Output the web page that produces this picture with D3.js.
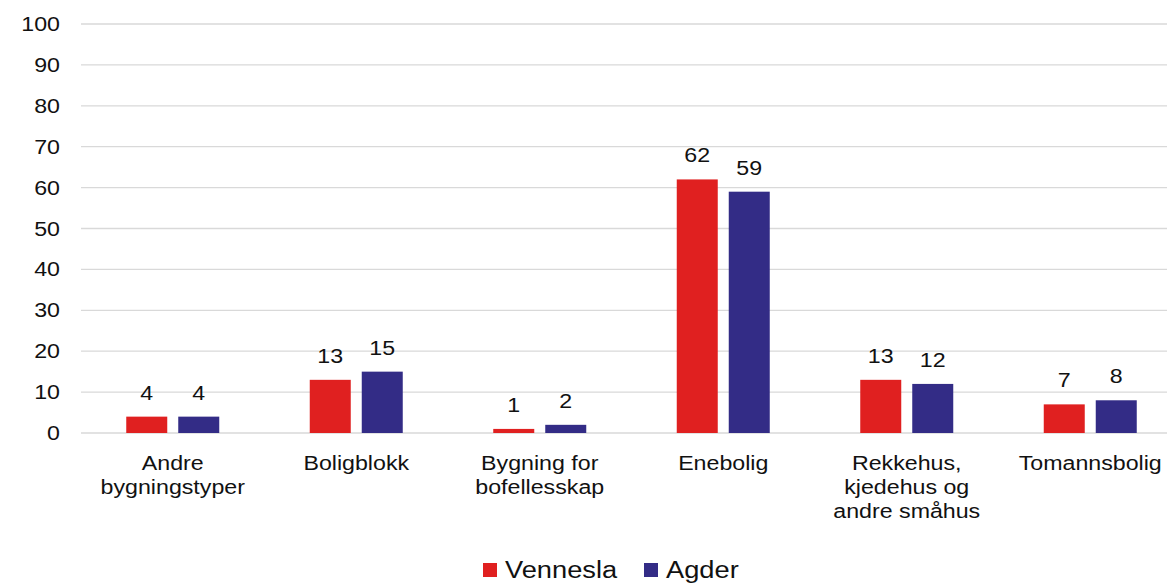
<!DOCTYPE html>
<html><head><meta charset="utf-8">
<script src="https://cdn.jsdelivr.net/npm/d3@7"></script>
<style>body{margin:0;background:#fff}svg{display:block;font-family:"Liberation Sans",Arial,sans-serif}</style>
</head><body><svg id="c" width="1167" height="583"></svg>
<script>
const categories = [["Andre","bygningstyper"],["Boligblokk"],["Bygning for","bofellesskap"],["Enebolig"],["Rekkehus,","kjedehus og","andre småhus"],["Tomannsbolig"]];
const seriesNames = ["Vennesla","Agder"];
const vennesla = [4,13,1,62,13,7];
const agder = [4,15,2,59,12,8];
const yTicks = [0,10,20,30,40,50,60,70,80,90,100];
const colors = ["#e02020","#332c86"];

const SX = 1.16;
const svg = d3.select("#c");
const x = d3.scaleBand().domain(d3.range(categories.length)).range([81,1182]);
const y = d3.scaleLinear().domain([0,100]).range([433,24]);
const barW = 41, gap = 11;

function label(g, tx, ty, txt, anchor, size){
  return g.append("text").attr("transform",`translate(${tx},${ty}) scale(${SX},1)`)
    .attr("text-anchor",anchor).attr("font-size",size).attr("fill","#111").text(txt);
}

svg.append("g").selectAll("line").data(yTicks).join("line")
  .attr("x1",81).attr("x2",1167).attr("y1",d=>y(d)).attr("y2",d=>y(d))
  .attr("stroke","#d9d9d9").attr("stroke-width",1.3);

const yg = svg.append("g");
yTicks.forEach(d=>label(yg,60,y(d)+7,d,"end",20));

const series = [vennesla, agder];
series.forEach((vals,si)=>{
  const g = svg.append("g");
  const off = si===0 ? -(gap/2+barW) : gap/2;
  g.selectAll("rect").data(vals).join("rect")
    .attr("x",(d,i)=>x(i)+x.bandwidth()/2+off)
    .attr("y",d=>y(d)).attr("width",barW).attr("height",d=>y(0)-y(d))
    .attr("fill",colors[si]);
  vals.forEach((d,i)=>label(g,x(i)+x.bandwidth()/2+off+barW/2,y(d)-17,d,"middle",20));
});

const cg = svg.append("g");
categories.forEach((lines,i)=>{
  lines.forEach((l,j)=>label(cg,x(i)+x.bandwidth()/2,470+j*24,l,"middle",20));
});

const leg = svg.append("g");
const legX = [483,644];
seriesNames.forEach((n,i)=>{
  leg.append("rect").attr("x",legX[i]).attr("y",563).attr("width",14).attr("height",14).attr("fill",colors[i]);
  label(leg,legX[i]+22,578,n,"start",23.5);
});
</script></body></html>
